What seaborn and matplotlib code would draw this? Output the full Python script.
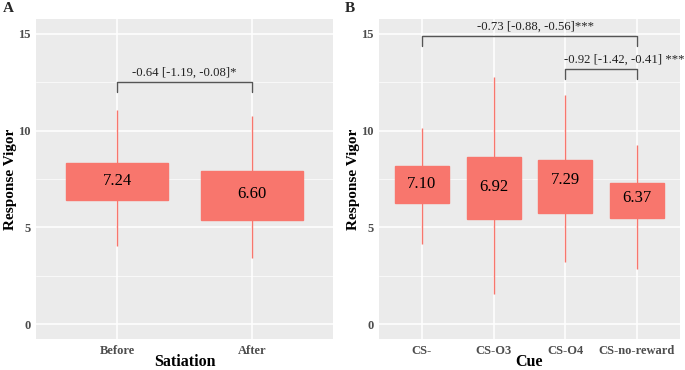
import numpy as np
import pandas as pd
import matplotlib
matplotlib.use("Agg")
import matplotlib.pyplot as plt
import seaborn as sns

# Panel A: satiation
sat_labels = ['Before', 'After']
sat_lo = [4.04, 3.44]
sat_q1 = [6.39, 5.36]
sat_mean = [7.24, 6.60]
sat_q3 = [8.33, 7.90]
sat_hi = [11.08, 10.77]

# Panel B: cue
cue_labels = ['CS-', 'CS-O3', 'CS-O4', 'CS-no-reward']
cue_lo = [4.12, 1.55, 3.21, 2.87]
cue_q1 = [6.24, 5.45, 5.76, 5.46]
cue_mean = [7.10, 6.92, 7.29, 6.37]
cue_q3 = [8.16, 8.62, 8.47, 7.30]
cue_hi = [10.14, 12.77, 11.86, 9.28]

# contrasts: (left idx, right idx, label, bracket y, label x)
sat_contrasts = [(0, 1, '-0.64 [-1.19, -0.08]*', 12.5, 0.5)]
cue_contrasts = [(0, 3, '-0.73 [-0.88, -0.56]***', 14.88, 1.58),
                 (2, 3, '-0.92 [-1.42, -0.41] ***', 13.18, 2.82)]

FILL = '#F8766D'


def to_long(labels, lo, q1, mean, q3, hi, col):
    rows = []
    for i, lab in enumerate(labels):
        for v in (lo[i], q1[i], mean[i], q3[i], hi[i]):
            rows.append({col: lab, 'vigor': v})
    return pd.DataFrame(rows)


sns.set_theme(style='darkgrid', rc={'axes.facecolor': '#EBEBEB', 'grid.color': 'white'})
plt.rcParams['font.family'] = ['Liberation Serif', 'DejaVu Serif']

fig = plt.figure(figsize=(6.85, 3.7), dpi=100)
axA = fig.add_axes([36 / 685, 31 / 370, 297 / 685, 320 / 370])
axB = fig.add_axes([379 / 685, 31 / 370, 301 / 685, 320 / 370])


def draw_panel(ax, df, col, labels, mean, contrasts, xlabel):
    sns.boxplot(data=df, x=col, y='vigor', order=labels, ax=ax, color=FILL,
                saturation=1, width=0.75, whis=(0, 100), showcaps=False,
                linecolor=FILL, linewidth=1, fliersize=0)
    for i, m in enumerate(mean):
        ax.text(i, m + 0.15, f'{m:.2f}', ha='center', va='center', fontsize=12, color='black')
    for a, b, lab, y, tx in contrasts:
        ax.plot([a, a, b, b], [y - 0.5, y, y, y - 0.5], color='#555555', lw=1)
        ax.text(tx, y + 0.48, lab, ha='center', va='center', fontsize=9.2,
                color='#222222', clip_on=False)
    ax.set_ylim(-0.77, 15.77)
    ax.set_xlim(-0.6, len(labels) - 0.4)
    ax.set_yticks([0, 5, 10, 15])
    ax.set_yticks([2.5, 7.5, 12.5], minor=True)
    ax.grid(True, which='major', color='white', lw=1.1)
    ax.grid(True, which='minor', axis='y', color='white', lw=0.5)
    ax.xaxis.grid(True, color='white', lw=1.1)
    ax.set_axisbelow(True)
    for s in ax.spines.values():
        s.set_visible(False)
    ax.tick_params(axis='both', which='major', length=3, width=0.8, color='#333333',
                   labelsize=9, labelcolor='#4D4D4D', pad=1)
    ax.tick_params(axis='y', which='minor', length=0)
    for t in ax.get_xticklabels() + ax.get_yticklabels():
        t.set_fontweight('bold')
    ax.set_xlabel(xlabel, fontsize=11.5, fontweight='bold', color='black', labelpad=-2)
    ax.set_ylabel('Response Vigor', fontsize=11, fontweight='bold', color='black', labelpad=1)


dfA = to_long(sat_labels, sat_lo, sat_q1, sat_mean, sat_q3, sat_hi, 'Satiation')
dfB = to_long(cue_labels, cue_lo, cue_q1, cue_mean, cue_q3, cue_hi, 'Cue')
draw_panel(axA, dfA, 'Satiation', sat_labels, sat_mean, sat_contrasts, 'Satiation')
draw_panel(axB, dfB, 'Cue', cue_labels, cue_mean, cue_contrasts, 'Cue')

fig.text(3 / 685, 1 - 9 / 370, 'A', fontsize=11, fontweight='bold', va='center')
fig.text(345 / 685, 1 - 9 / 370, 'B', fontsize=11, fontweight='bold', va='center')

fig.savefig('out.png', dpi=100)
